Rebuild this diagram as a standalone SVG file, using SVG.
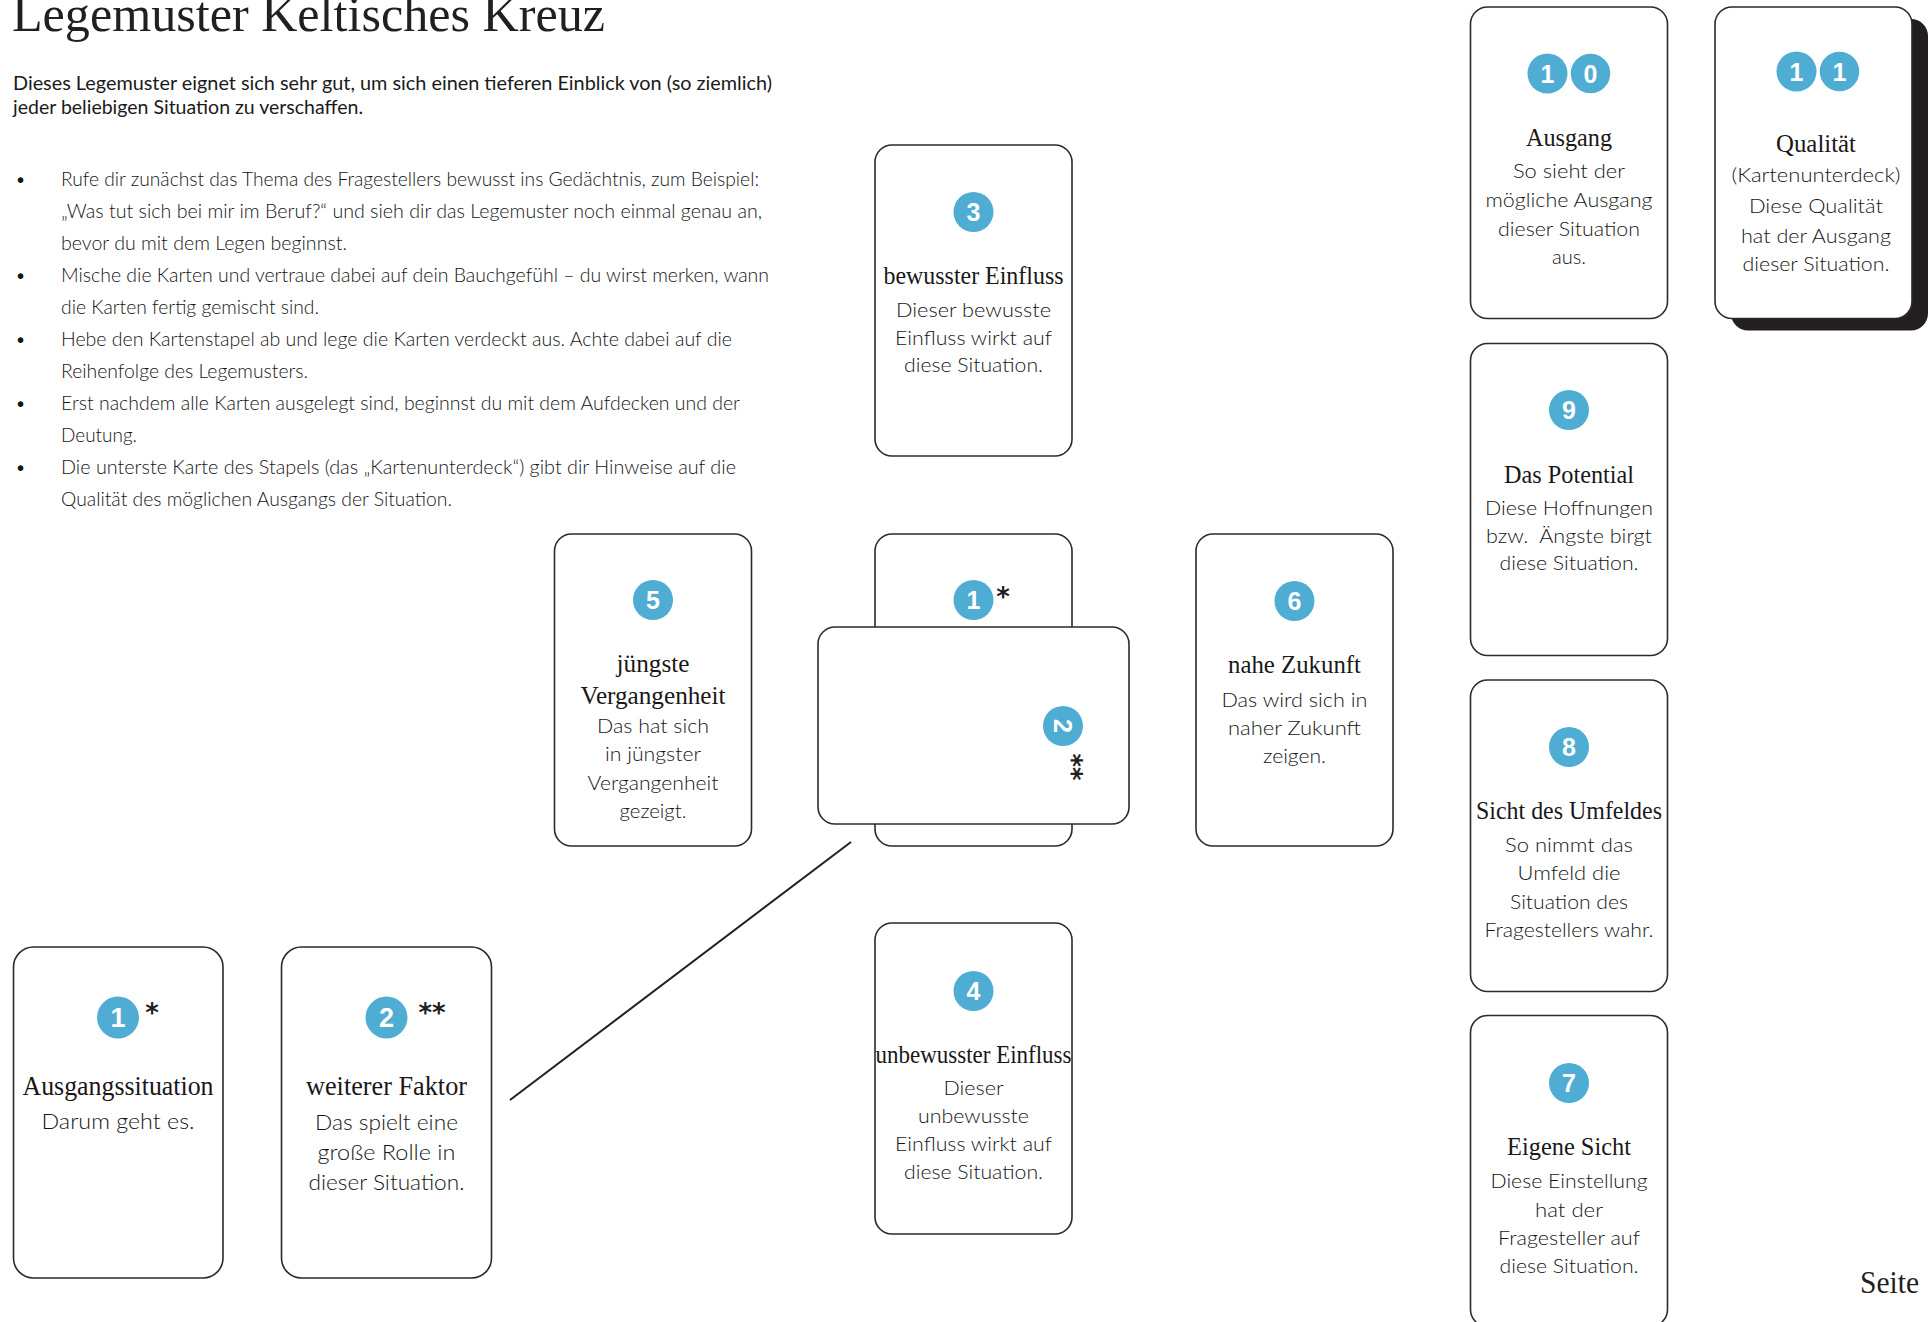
<svg xmlns="http://www.w3.org/2000/svg" width="1928" height="1322" viewBox="0 0 1928 1322">
<style>
.card{fill:#fff;stroke:#2b2b2b;stroke-width:1.6}
.shadow{fill:#231f20}
.num{fill:#4fadd4}
.num2{fill:#4fadd4;stroke:#fff;stroke-width:1.5}
.dig{font-family:"Liberation Sans",Arial,sans-serif;font-weight:bold;font-size:25px;fill:#fff;text-anchor:middle}
.digb{font-family:"Liberation Sans",Arial,sans-serif;font-weight:bold;font-size:27px;fill:#fff;text-anchor:middle}
.ttl{font-family:"Liberation Serif","Times New Roman",serif;font-size:25px;fill:#1a1718;text-anchor:middle}
.ttlb{font-family:"Liberation Serif","Times New Roman",serif;font-size:27px;fill:#1a1718;text-anchor:middle}
.bd{font-family:Lato,"Liberation Sans",sans-serif;font-weight:300;font-size:20px;fill:#151515;text-anchor:middle}
.bdb{font-family:Lato,"Liberation Sans",sans-serif;font-weight:300;font-size:22px;fill:#151515;text-anchor:middle}
.ast{font-family:"DejaVu Sans",sans-serif;font-weight:bold;font-size:26px;fill:#231f20;text-anchor:middle}
.h1{font-family:"Liberation Serif","Times New Roman",serif;font-size:50px;fill:#231f20}
.sub{font-family:Lato,"Liberation Sans",sans-serif;font-weight:400;font-size:19.5px;fill:#1a1a1a}
.li{font-family:Lato,"Liberation Sans",sans-serif;font-weight:300;font-size:19px;fill:#151515}
.pg{font-family:"Liberation Serif","Times New Roman",serif;font-size:32px;fill:#231f20}
.conn{stroke:#231f20;stroke-width:2;fill:none}
</style>
<rect x="0" y="0" width="1928" height="1322" fill="#fff"/>

<g id="header">
<text class="h1" x="12" y="31" textLength="593" lengthAdjust="spacingAndGlyphs">Legemuster Keltisches Kreuz</text>
<text class="sub" x="13" y="90" textLength="759" lengthAdjust="spacingAndGlyphs">Dieses Legemuster eignet sich sehr gut, um sich einen tieferen Einblick von (so ziemlich)</text>
<text class="sub" x="13" y="114" textLength="350" lengthAdjust="spacingAndGlyphs">jeder beliebigen Situation zu verschaffen.</text>
</g>

<g id="instructions">
<text class="li" x="15" y="186">•</text>
<text class="li" x="61" y="186" textLength="698" lengthAdjust="spacingAndGlyphs">Rufe dir zunächst das Thema des Fragestellers bewusst ins Gedächtnis, zum Beispiel:</text>
<text class="li" x="61" y="218" textLength="701" lengthAdjust="spacingAndGlyphs">„Was tut sich bei mir im Beruf?“ und sieh dir das Legemuster noch einmal genau an,</text>
<text class="li" x="61" y="250" textLength="286" lengthAdjust="spacingAndGlyphs">bevor du mit dem Legen beginnst.</text>
<text class="li" x="15" y="282">•</text>
<text class="li" x="61" y="282" textLength="708" lengthAdjust="spacingAndGlyphs">Mische die Karten und vertraue dabei auf dein Bauchgefühl – du wirst merken, wann</text>
<text class="li" x="61" y="314" textLength="258" lengthAdjust="spacingAndGlyphs">die Karten fertig gemischt sind.</text>
<text class="li" x="15" y="346">•</text>
<text class="li" x="61" y="346" textLength="671" lengthAdjust="spacingAndGlyphs">Hebe den Kartenstapel ab und lege die Karten verdeckt aus. Achte dabei auf die</text>
<text class="li" x="61" y="378" textLength="247" lengthAdjust="spacingAndGlyphs">Reihenfolge des Legemusters.</text>
<text class="li" x="15" y="410">•</text>
<text class="li" x="61" y="410" textLength="679" lengthAdjust="spacingAndGlyphs">Erst nachdem alle Karten ausgelegt sind, beginnst du mit dem Aufdecken und der</text>
<text class="li" x="61" y="442" textLength="76" lengthAdjust="spacingAndGlyphs">Deutung.</text>
<text class="li" x="15" y="474">•</text>
<text class="li" x="61" y="474" textLength="675" lengthAdjust="spacingAndGlyphs">Die unterste Karte des Stapels (das „Kartenunterdeck“) gibt dir Hinweise auf die</text>
<text class="li" x="61" y="506" textLength="391" lengthAdjust="spacingAndGlyphs">Qualität des möglichen Ausgangs der Situation.</text>
</g>

<g id="connectors">
<line class="conn" x1="510" y1="1100" x2="851" y2="842"/>
</g>

<g id="card3">
<rect class="card" x="875" y="145" width="197" height="311" rx="17"/>
<circle class="num" cx="973.5" cy="212" r="20"/>
<text class="dig" x="973.5" y="221">3</text>
<text class="ttl" x="973.5" y="284" textLength="180" lengthAdjust="spacingAndGlyphs">bewusster Einfluss</text>
<text class="bd" x="973.5" y="317" textLength="155" lengthAdjust="spacingAndGlyphs">Dieser bewusste</text>
<text class="bd" x="973.5" y="345" textLength="157" lengthAdjust="spacingAndGlyphs">Einfluss wirkt auf</text>
<text class="bd" x="973.5" y="372" textLength="139" lengthAdjust="spacingAndGlyphs">diese Situation.</text>
</g>

<g id="card5">
<rect class="card" x="554.5" y="534" width="197" height="312" rx="17"/>
<circle class="num" cx="653" cy="600" r="20"/>
<text class="dig" x="653" y="609">5</text>
<text class="ttl" x="653" y="672" textLength="73" lengthAdjust="spacingAndGlyphs">jüngste</text>
<text class="ttl" x="653" y="704" textLength="145" lengthAdjust="spacingAndGlyphs">Vergangenheit</text>
<text class="bd" x="653" y="733" textLength="112" lengthAdjust="spacingAndGlyphs">Das hat sich</text>
<text class="bd" x="653" y="761" textLength="96" lengthAdjust="spacingAndGlyphs">in jüngster</text>
<text class="bd" x="653" y="790" textLength="131" lengthAdjust="spacingAndGlyphs">Vergangenheit</text>
<text class="bd" x="653" y="818" textLength="67" lengthAdjust="spacingAndGlyphs">gezeigt.</text>
</g>

<g id="card1">
<rect class="card" x="875" y="534" width="197" height="312" rx="17"/>
<circle class="num" cx="973.5" cy="600" r="20"/>
<text class="dig" x="973.5" y="609">1</text>
<text class="ast" x="1003" y="606">*</text>
</g>

<g id="card2">
<rect class="card" x="818" y="627" width="311" height="197" rx="17"/>
<g transform="rotate(90 1063 726)">
<circle class="num" cx="1063" cy="726" r="20"/>
<text class="dig" x="1063" y="735">2</text>
<text class="ast" x="1104" y="726">**</text>
</g>
</g>

<g id="card6">
<rect class="card" x="1196" y="534" width="197" height="312" rx="17"/>
<circle class="num" cx="1294.5" cy="601" r="20"/>
<text class="dig" x="1294.5" y="610">6</text>
<text class="ttl" x="1294.5" y="673" textLength="133" lengthAdjust="spacingAndGlyphs">nahe Zukunft</text>
<text class="bd" x="1294.5" y="707" textLength="146" lengthAdjust="spacingAndGlyphs">Das wird sich in</text>
<text class="bd" x="1294.5" y="735" textLength="133" lengthAdjust="spacingAndGlyphs">naher Zukunft</text>
<text class="bd" x="1294.5" y="763" textLength="63" lengthAdjust="spacingAndGlyphs">zeigen.</text>
</g>

<g id="card4">
<rect class="card" x="875" y="923" width="197" height="311" rx="17"/>
<circle class="num" cx="973.5" cy="991" r="20"/>
<text class="dig" x="973.5" y="1000">4</text>
<text class="ttl" x="973.5" y="1063" textLength="196" lengthAdjust="spacingAndGlyphs">unbewusster Einfluss</text>
<text class="bd" x="973.5" y="1095" textLength="60" lengthAdjust="spacingAndGlyphs">Dieser</text>
<text class="bd" x="973.5" y="1123" textLength="111" lengthAdjust="spacingAndGlyphs">unbewusste</text>
<text class="bd" x="973.5" y="1151" textLength="157" lengthAdjust="spacingAndGlyphs">Einfluss wirkt auf</text>
<text class="bd" x="973.5" y="1179" textLength="139" lengthAdjust="spacingAndGlyphs">diese Situation.</text>
</g>

<g id="card10">
<rect class="card" x="1470.5" y="7" width="197" height="311.5" rx="17"/>
<circle class="num" cx="1547.5" cy="73.5" r="20"/>
<circle class="num2" cx="1590.5" cy="73.5" r="20.5"/>
<text class="dig" x="1547.5" y="82.5">1</text>
<text class="dig" x="1590.5" y="82.5">0</text>
<text class="ttl" x="1569" y="146" textLength="86" lengthAdjust="spacingAndGlyphs">Ausgang</text>
<text class="bd" x="1569" y="178" textLength="112" lengthAdjust="spacingAndGlyphs">So sieht der</text>
<text class="bd" x="1569" y="207" textLength="167" lengthAdjust="spacingAndGlyphs">mögliche Ausgang</text>
<text class="bd" x="1569" y="236" textLength="142" lengthAdjust="spacingAndGlyphs">dieser Situation</text>
<text class="bd" x="1569" y="264" textLength="34" lengthAdjust="spacingAndGlyphs">aus.</text>
</g>

<g id="card11">
<rect class="shadow" x="1731" y="19" width="197" height="311.5" rx="17"/>
<rect class="card" x="1715" y="7" width="197" height="311.5" rx="17"/>
<circle class="num" cx="1796.5" cy="71.5" r="20"/>
<circle class="num2" cx="1839.5" cy="71.5" r="20.5"/>
<text class="dig" x="1796.5" y="80.5">1</text>
<text class="dig" x="1839.5" y="80.5">1</text>
<text class="ttl" x="1816" y="152" textLength="80" lengthAdjust="spacingAndGlyphs">Qualität</text>
<text class="bd" x="1816" y="182" textLength="169" lengthAdjust="spacingAndGlyphs">(Kartenunterdeck)</text>
<text class="bd" x="1816" y="213" textLength="134" lengthAdjust="spacingAndGlyphs">Diese Qualität</text>
<text class="bd" x="1816" y="243" textLength="150" lengthAdjust="spacingAndGlyphs">hat der Ausgang</text>
<text class="bd" x="1816" y="271" textLength="147" lengthAdjust="spacingAndGlyphs">dieser Situation.</text>
</g>

<g id="card9">
<rect class="card" x="1470.5" y="343.5" width="197" height="312" rx="17"/>
<circle class="num" cx="1569" cy="410" r="20"/>
<text class="dig" x="1569" y="419">9</text>
<text class="ttl" x="1569" y="483" textLength="130" lengthAdjust="spacingAndGlyphs">Das Potential</text>
<text class="bd" x="1569" y="515" textLength="168" lengthAdjust="spacingAndGlyphs">Diese Hoffnungen</text>
<text class="bd" x="1569" y="543" textLength="166" lengthAdjust="spacingAndGlyphs" xml:space="preserve">bzw.  Ängste birgt</text>
<text class="bd" x="1569" y="570" textLength="139" lengthAdjust="spacingAndGlyphs">diese Situation.</text>
</g>

<g id="card8">
<rect class="card" x="1470.5" y="680" width="197" height="311.5" rx="17"/>
<circle class="num" cx="1569" cy="747" r="20"/>
<text class="dig" x="1569" y="756">8</text>
<text class="ttl" x="1569" y="819" textLength="186" lengthAdjust="spacingAndGlyphs">Sicht des Umfeldes</text>
<text class="bd" x="1569" y="852" textLength="128" lengthAdjust="spacingAndGlyphs">So nimmt das</text>
<text class="bd" x="1569" y="880" textLength="103" lengthAdjust="spacingAndGlyphs">Umfeld die</text>
<text class="bd" x="1569" y="909" textLength="118" lengthAdjust="spacingAndGlyphs">Situation des</text>
<text class="bd" x="1569" y="937" textLength="169" lengthAdjust="spacingAndGlyphs">Fragestellers wahr.</text>
</g>

<g id="card7">
<rect class="card" x="1470.5" y="1015.5" width="197" height="311" rx="17"/>
<circle class="num" cx="1569" cy="1083" r="20"/>
<text class="dig" x="1569" y="1092">7</text>
<text class="ttl" x="1569" y="1155" textLength="124" lengthAdjust="spacingAndGlyphs">Eigene Sicht</text>
<text class="bd" x="1569" y="1188" textLength="157" lengthAdjust="spacingAndGlyphs">Diese Einstellung</text>
<text class="bd" x="1569" y="1217" textLength="68" lengthAdjust="spacingAndGlyphs">hat der</text>
<text class="bd" x="1569" y="1245" textLength="142" lengthAdjust="spacingAndGlyphs">Fragesteller auf</text>
<text class="bd" x="1569" y="1273" textLength="139" lengthAdjust="spacingAndGlyphs">diese Situation.</text>
</g>

<g id="legend1">
<rect class="card" x="13.5" y="947" width="209.5" height="331" rx="20"/>
<circle class="num" cx="118" cy="1017.5" r="21"/>
<text class="digb" x="118" y="1027">1</text>
<text class="ast" x="152" y="1022">*</text>
<text class="ttlb" x="118" y="1095" textLength="191" lengthAdjust="spacingAndGlyphs">Ausgangssituation</text>
<text class="bdb" x="118" y="1129" textLength="153" lengthAdjust="spacingAndGlyphs">Darum geht es.</text>
</g>

<g id="legend2">
<rect class="card" x="281.5" y="947" width="210" height="331" rx="20"/>
<circle class="num" cx="386.5" cy="1017.5" r="21"/>
<text class="digb" x="386.5" y="1027">2</text>
<text class="ast" x="432" y="1022">**</text>
<text class="ttlb" x="386.5" y="1095" textLength="161" lengthAdjust="spacingAndGlyphs">weiterer Faktor</text>
<text class="bdb" x="386.5" y="1130" textLength="143" lengthAdjust="spacingAndGlyphs">Das spielt eine</text>
<text class="bdb" x="386.5" y="1160" textLength="138" lengthAdjust="spacingAndGlyphs">große Rolle in</text>
<text class="bdb" x="386.5" y="1190" textLength="156" lengthAdjust="spacingAndGlyphs">dieser Situation.</text>
</g>

<g id="footer">
<text class="pg" x="1860" y="1293" textLength="59" lengthAdjust="spacingAndGlyphs">Seite</text>
</g>
</svg>
